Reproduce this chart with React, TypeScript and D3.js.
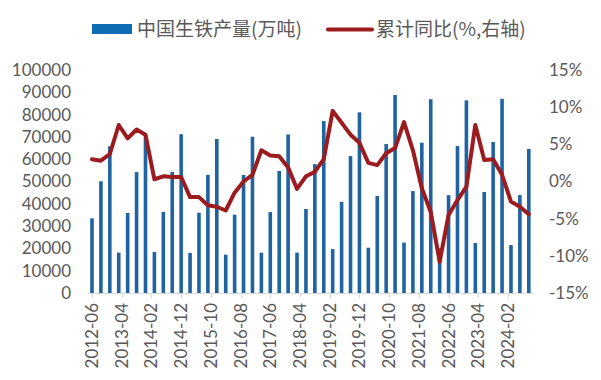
import React from "react";
import * as d3 from "d3";

const dates = [
  "2012-06", "2012-09", "2012-12",
  "2013-03", "2013-06", "2013-09", "2013-12",
  "2014-03", "2014-06", "2014-09", "2014-12",
  "2015-03", "2015-06", "2015-09", "2015-12",
  "2016-03", "2016-06", "2016-09", "2016-12",
  "2017-03", "2017-06", "2017-09", "2017-12",
  "2018-03", "2018-06", "2018-09", "2018-12",
  "2019-03", "2019-06", "2019-09", "2019-12",
  "2020-03", "2020-06", "2020-09", "2020-12",
  "2021-03", "2021-06", "2021-09", "2021-12",
  "2022-03", "2022-06", "2022-09", "2022-12",
  "2023-03", "2023-06", "2023-09", "2023-12",
  "2024-03", "2024-06", "2024-09",
];

const output = [
  33500, 50100, 65800,
  18100, 35900, 54200, 70900,
  18400, 36400, 54300, 71200,
  18000, 36000, 53000, 69100,
  17200, 35100, 52900, 70100,
  18100, 36300, 54700, 71100,
  18100, 37700, 57800, 77100,
  19700, 40900, 61400, 81000,
  20300, 43500, 66800, 88800,
  22600, 45700, 67400, 86900,
  20100, 43900, 65900, 86400,
  22400, 45300, 67700, 87100,
  21500, 43900, 64600,
];

const yoy = [
  3.0, 2.8, 3.7,
  7.6, 5.8, 7.0, 6.3,
  0.3, 0.7, 0.6, 0.6,
  -2.1, -2.1, -3.2, -3.4,
  -3.9, -1.5, 0.0, 0.9,
  4.2, 3.5, 3.4, 1.9,
  -1.0, 0.7, 1.3, 3.0,
  9.5, 7.9, 6.3, 5.2,
  2.5, 2.2, 3.8, 4.5,
  8.0, 4.2, -0.9, -4.1,
  -10.8, -4.5, -2.5, -0.7,
  7.6, 2.9, 3.0, 0.9,
  -2.7, -3.4, -4.4,
];

const xTickLabels = [
  "2012-06", "2013-04", "2014-02", "2014-12", "2015-10", "2016-08", "2017-06",
  "2018-04", "2019-02", "2019-12", "2020-10", "2021-08", "2022-06", "2023-04", "2024-02",
];

const leftTicks = [0, 10000, 20000, 30000, 40000, 50000, 60000, 70000, 80000, 90000, 100000];
const rightTicks = [-15, -10, -5, 0, 5, 10, 15];

const legendBar = "中国生铁产量(万吨)";
const legendLine = "累计同比(%,右轴)";

const monthIndex = (s: string) => {
  const [y, m] = s.split("-").map(Number);
  return (y - 2012) * 12 + (m - 6);
};

export default function App() {
  const W = 601, H = 380;
  const top = 70, bottom = 293;
  const x = d3.scaleLinear().domain([0, 140]).range([92, 508]);
  const yL = d3.scaleLinear().domain([0, 100000]).range([bottom, top]);
  const yR = d3.scaleLinear().domain([-15, 15]).range([bottom, top]);
  const barW = 3.6;
  const textColor = "#595959";
  const numFont = "Lato, 'Liberation Sans', sans-serif";
  const cjkFont = "'Noto Sans CJK SC', sans-serif";

  const line = d3
    .line<number>()
    .x((_, i) => x(monthIndex(dates[i])))
    .y((d) => yR(d));

  const axisStart = x(-1.4);
  const axisEnd = x(148.5);

  return (
    <div style={{ position: "absolute", left: 0, top: 0 }}>
      <svg width={W} height={H} style={{ display: "block", background: "#fff" }}>
        {/* legend */}
        <rect x={92} y={24} width={40} height={10} fill="#0F6DB5" />
        <text x={137} y={36} fontFamily={cjkFont} fontSize={19} fill={textColor}>
          {legendBar}
        </text>
        <line x1={328} x2={372} y1={29.5} y2={29.5} stroke="#9B1B1F" strokeWidth={4} strokeLinecap="round" />
        <text x={376} y={36} fontFamily={cjkFont} fontSize={19} fill={textColor}>
          {legendLine}
        </text>

        {/* left axis labels */}
        {leftTicks.map((t) => (
          <text
            key={"l" + t}
            x={71}
            y={yL(t)}
            dy="0.35em"
            textAnchor="end"
            fontFamily={numFont}
            fontSize={17}
            fill={textColor}
          >
            {t}
          </text>
        ))}

        {/* right axis labels */}
        {rightTicks.map((t) => (
          <text
            key={"r" + t}
            x={549}
            y={yR(t)}
            dy="0.35em"
            textAnchor="start"
            fontFamily={numFont}
            fontSize={17}
            fill={textColor}
          >
            {t + "%"}
          </text>
        ))}

        {/* bars */}
        {output.map((v, i) => {
          const cx = x(monthIndex(dates[i]));
          return (
            <rect
              key={"b" + i}
              x={cx - barW / 2}
              y={yL(v)}
              width={barW}
              height={yL(0) - yL(v)}
              fill="#1F64A0"
            />
          );
        })}

        {/* x axis */}
        <line x1={axisStart} x2={axisEnd} y1={bottom + 0.5} y2={bottom + 0.5} stroke="#D9D9D9" strokeWidth={1} />
        {xTickLabels.map((lab) => {
          const px = Math.round(x(monthIndex(lab))) + 0.5;
          return (
            <g key={"t" + lab}>
              <line x1={px} x2={px} y1={bottom} y2={bottom + 5} stroke="#D9D9D9" />
              <text
                transform={`translate(${px},${303}) rotate(-90)`}
                dy="0.35em"
                textAnchor="end"
                fontFamily={numFont}
                fontSize={17}
                fill={textColor}
              >
                {lab}
              </text>
            </g>
          );
        })}

        {/* line */}
        <path d={line(yoy) || ""} fill="none" stroke="#9B1B1F" strokeWidth={4} strokeLinejoin="round" strokeLinecap="round" />
      </svg>
    </div>
  );
}
